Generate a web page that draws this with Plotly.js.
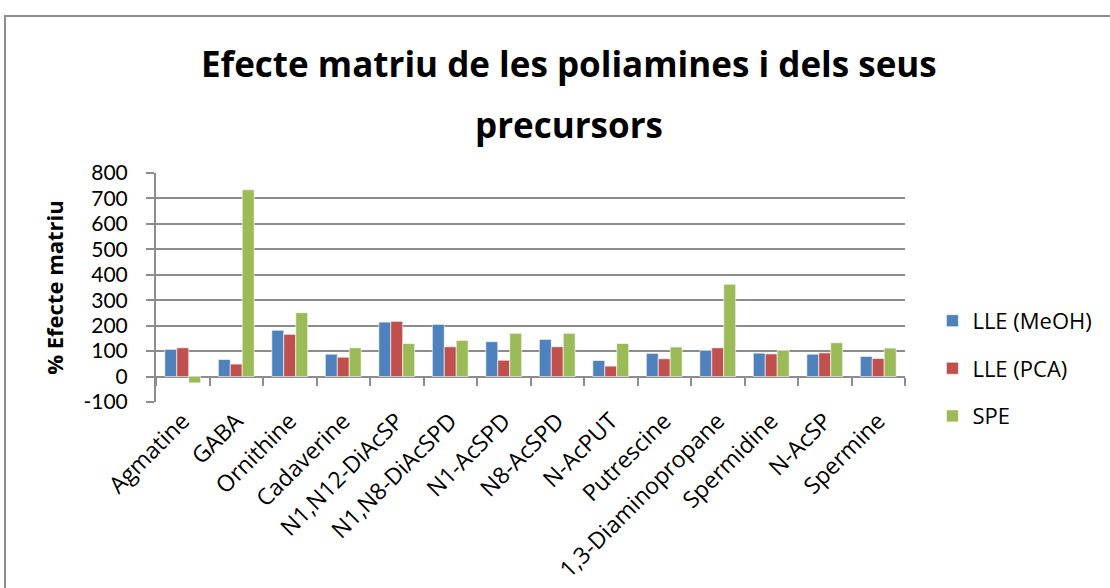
<!DOCTYPE html>
<html>
<head>
<meta charset="utf-8">
<script src="https://cdn.plot.ly/plotly-3.0.1.min.js"></script>
<style>
html,body{margin:0;padding:0;background:#fff;}
#wrap{position:relative;width:1110px;height:588px;overflow:hidden;}
#frame{position:absolute;left:4px;top:15px;width:1120px;height:600px;border:2px solid #8c8c8c;box-sizing:border-box;pointer-events:none;z-index:5;}
#chart{position:absolute;left:0;top:0;width:1110px;height:588px;}
</style>
</head>
<body>
<div id="wrap"><div id="chart"></div><div id="frame"></div></div>
<script>
const categories = ["Agmatine","GABA","Ornithine","Cadaverine","N1,N12-DiAcSP","N1,N8-DiAcSPD","N1-AcSPD","N8-AcSPD","N-AcPUT","Putrescine","1,3-Diaminopropane","Spermidine","N-AcSP","Spermine"];
const lleMeOH = [107, 67, 182, 88, 214, 205, 137, 146, 63, 91, 103, 92, 88, 79];
const llePCA  = [113, 49, 166, 76, 217, 117, 64, 117, 41, 70, 113, 89, 93, 71];
const spe     = [-25, 734, 251, 113, 130, 142, 170, 170, 130, 116, 363, 103, 133, 112];
const seriesNames = ["LLE (MeOH)", "LLE (PCA)", "SPE"];
const yTickVals = [-100, 0, 100, 200, 300, 400, 500, 600, 700, 800];
const yTickText = ["-100", "0", "100", "200", "300", "400", "500", "600", "700", "800"];
const titleLines = ["Efecte matriu de les poliamines i dels seus", "precursors"];
const yTitle = "% Efecte matriu";

const font = "'Open Sans', Lato, sans-serif";
const colors = ["#4F81BD", "#C0504D", "#9BBB59"];
const vals = [lleMeOH, llePCA, spe];
const traces = vals.map((v, i) => ({
  type: "bar", x: categories, y: v, name: seriesNames[i],
  marker: {color: colors[i], line: {color: "rgba(255,255,255,0.6)", width: 1}},
  legendgroup: "g" + i, hoverinfo: "y"
}));
const bounds = [];
for (let i = 0; i <= categories.length; i++) bounds.push(i - 0.5);
traces.push({type: "scatter", x: [-0.5, categories.length - 0.5], y: [0, 0], xaxis: "x2", mode: "none", showlegend: false, hoverinfo: "skip"});

const titleFont = {family: font, size: 35, color: "#000", weight: "bold"};
const layout = {
  width: 1110, height: 588,
  paper_bgcolor: "#fff", plot_bgcolor: "#fff",
  margin: {l: 156, r: 205, t: 173, b: 186},
  font: {family: font, color: "#000", size: 22},
  annotations: [
    {text: titleLines[0], xref: "paper", yref: "paper", x: 0.551, y: 1.48, xanchor: "center", yanchor: "middle", showarrow: false, font: titleFont},
    {text: titleLines[1], xref: "paper", yref: "paper", x: 0.551, y: 1.21, xanchor: "center", yanchor: "middle", showarrow: false, font: titleFont}
  ],
  barmode: "group", bargap: 0.33, bargroupgap: 0,
  xaxis: {type: "category", range: [-0.5, categories.length - 0.5], tickangle: -45, showgrid: false, showline: false, ticks: "", tickfont: {size: 23, family: font, color: "#000"}, fixedrange: true, automargin: false},
  xaxis2: {overlaying: "x", anchor: "free", position: 1/9, range: [-0.5, categories.length - 0.5], tickmode: "array", tickvals: bounds, showticklabels: false, ticks: "outside", ticklen: 8, tickwidth: 2, tickcolor: "#8c8c8c", showgrid: false, showline: false, zeroline: false, fixedrange: true},
  yaxis: {range: [-100, 800], tickmode: "array", tickvals: yTickVals, ticktext: yTickText, showgrid: true, gridcolor: "#8c8c8c", gridwidth: 2, zeroline: true, zerolinecolor: "#8c8c8c", zerolinewidth: 2, showline: true, linecolor: "#8c8c8c", linewidth: 2, ticks: "outside", ticklen: 8, tickwidth: 2, tickcolor: "#8c8c8c", ticklabelstandoff: 14, tickfont: {size: 21, family: "Lato, sans-serif", color: "#000"}, title: {text: yTitle, font: {size: 22, family: font, color: "#000", weight: "bold"}, standoff: 14}, fixedrange: true, automargin: false},
  legend: {xref: "container", yref: "container", x: 0.840, xanchor: "left", y: 0.49, yanchor: "top", traceorder: "grouped", tracegroupgap: 16, font: {size: 22, family: font, color: "#000"}, bgcolor: "rgba(0,0,0,0)"},
  showlegend: true
};
Plotly.newPlot("chart", traces, layout, {displayModeBar: false, staticPlot: true});
</script>
</body>
</html>
